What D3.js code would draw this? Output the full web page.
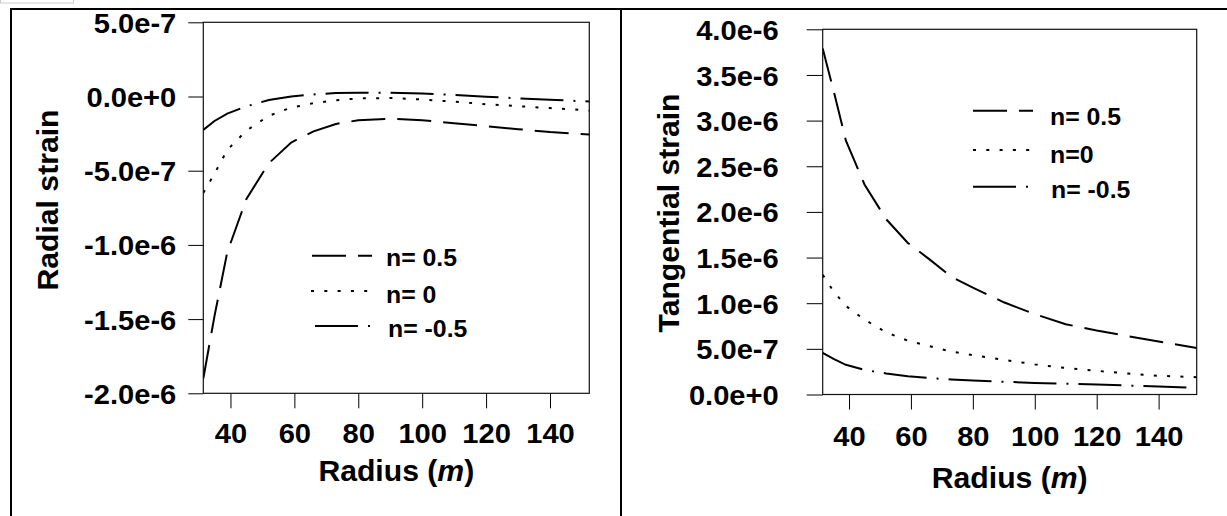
<!DOCTYPE html>
<html>
<head>
<meta charset="utf-8">
<script src="https://cdn.jsdelivr.net/npm/d3@7"></script>
<style>
html, body { margin: 0; padding: 0; background: #fff; }
svg { display: block; }
text { font-family: "Liberation Sans", Arial, sans-serif; font-weight: bold; fill: #000; }
</style>
</head>
<body>
<svg id="chart" width="1227" height="516"></svg>
<script>
// radius samples (m)
const radius = [31.5, 35, 39, 45, 52, 59, 66, 73, 80, 90, 100, 110, 120, 130, 140, 152.3]

// radial strain, left panel
const radialPos = [-1.90e-6, -1.48e-6, -1.05e-6, -6.9e-7, -4.5e-7, -3.1e-7, -2.35e-7, -1.85e-7,
    -1.6e-7, -1.5e-7, -1.6e-7, -1.8e-7, -2.0e-7, -2.2e-7, -2.4e-7, -2.56e-7]
const radialZero = [-6.5e-7, -5.2e-7, -3.6e-7, -2.3e-7, -1.3e-7, -7.5e-8, -4.5e-8, -2.5e-8,
    -1.3e-8, -1.0e-8, -2.0e-8, -3.5e-8, -5.2e-8, -6.5e-8, -7.8e-8, -9.4e-8]
const radialNeg = [-2.25e-7, -1.65e-7, -1.15e-7, -6.6e-8, -2.4e-8, 0, 1.4e-8, 2.3e-8,
    2.6e-8, 2.5e-8, 2.0e-8, 1.0e-8, -2e-9, -1.2e-8, -2.2e-8, -3.4e-8]

// tangential strain, right panel
const tangPos = [3.79e-6, 3.33e-6, 2.78e-6, 2.30e-6, 1.92e-6, 1.66e-6, 1.48e-6, 1.29e-6,
    1.17e-6, 1.01e-6, 8.8e-7, 7.7e-7, 7.0e-7, 6.4e-7, 5.8e-7, 5.1e-7]
const tangZero = [1.31e-6, 1.13e-6, 9.7e-7, 8.2e-7, 6.8e-7, 5.9e-7, 5.3e-7, 4.7e-7,
    4.3e-7, 3.8e-7, 3.3e-7, 2.9e-7, 2.6e-7, 2.3e-7, 2.05e-7, 1.9e-7]
const tangNeg = [4.56e-7, 3.9e-7, 3.25e-7, 2.7e-7, 2.3e-7, 2.0e-7, 1.8e-7, 1.65e-7,
    1.53e-7, 1.4e-7, 1.27e-7, 1.18e-7, 1.1e-7, 9.8e-8, 8.7e-8, 7.3e-8]

const xTicks = [40, 60, 80, 100, 120, 140]
const radialTicks = [-2e-6, -1.5e-6, -1e-6, -5e-7, 0, 5e-7]
const radialTickLabels = ["-2.0e-6", "-1.5e-6", "-1.0e-6", "-5.0e-7", "0.0e+0", "5.0e-7"]
const tangTicks = [0, 5e-7, 1e-6, 1.5e-6, 2e-6, 2.5e-6, 3e-6, 3.5e-6, 4e-6]
const tangTickLabels = ["0.0e+0", "5.0e-7", "1.0e-6", "1.5e-6", "2.0e-6", "2.5e-6", "3.0e-6", "3.5e-6", "4.0e-6"]

const leftLegend = ["n= 0.5", "n= 0", "n= -0.5"]
const rightLegend = ["n= 0.5", "n=0", "n= -0.5"]

// dash styles for n = 0.5, 0, -0.5
const dashes = ["34,12", "3,10.3", "43,10,2,10"]

// the original text is a bit wider than plain arial bold
const SX = 1.04
const SX_LEGEND = 1.08
const FONT = "'Liberation Sans', Arial, sans-serif"

const svg = d3.select("#chart")

// outer frame (table-like borders)
svg.append("rect").attr("x", 0.5).attr("y", -1).attr("width", 73).attr("height", 4)
    .attr("fill", "none").attr("stroke", "#ccc")
svg.append("line").attr("x1", 10).attr("x2", 1227).attr("y1", 9).attr("y2", 9)
    .attr("stroke", "#000").attr("stroke-width", 2)
svg.append("line").attr("x1", 11).attr("x2", 11).attr("y1", 8).attr("y2", 516)
    .attr("stroke", "#000").attr("stroke-width", 2)
svg.append("line").attr("x1", 621).attr("x2", 621).attr("y1", 8).attr("y2", 516)
    .attr("stroke", "#000").attr("stroke-width", 2)

function styleTickText(sel){
    sel.attr("transform", `scale(${SX},1)`)
        .attr("fill", "#000")
        .style("font-size", "28px")
        .style("font-family", FONT)
        .style("font-weight", "bold")
}

function drawPanel(cfg){
    let {left, right, top, bottom, yDomain, yTicks, yLabels, series, legend, legendPos,
        yTitle, yTitlePos, yLabelOffset, yTickLen, xLabelY, xTitleY, clipId} = cfg

    let g = svg.append("g")

    let x = d3.scaleLinear().domain([31.5, 152.3]).range([left, right])
    let y = d3.scaleLinear().domain(yDomain).range([bottom, top])

    g.append("clipPath").attr("id", clipId)
        .append("rect").attr("x", left).attr("y", top)
        .attr("width", right - left).attr("height", bottom - top)

    // y axis
    let yAxis = g.append("g")
        .attr("transform", `translate(${left},0)`)
        .call(d3.axisLeft(y).tickValues(yTicks).tickSize(yTickLen).tickSizeOuter(0)
            .tickFormat((d, i) => yLabels[i]))
    yAxis.select(".domain").remove()
    yAxis.selectAll(".tick line").attr("stroke", "#000")
    yAxis.selectAll(".tick text")
        .attr("x", -yLabelOffset / SX)
        .attr("dy", "0.36em")
        .call(styleTickText)

    // x axis
    let xAxis = g.append("g")
        .attr("transform", `translate(0,${bottom})`)
        .call(d3.axisBottom(x).tickValues(xTicks).tickSize(15).tickSizeOuter(0))
    xAxis.select(".domain").remove()
    xAxis.selectAll(".tick line").attr("stroke", "#000")
    xAxis.selectAll(".tick text")
        .attr("y", xLabelY)
        .attr("dy", null)
        .call(styleTickText)

    // plot box
    g.append("rect")
        .attr("x", left).attr("y", top)
        .attr("width", right - left).attr("height", bottom - top)
        .attr("fill", "none").attr("stroke", "#111").attr("stroke-width", 1.2)

    // curves
    let line = d3.line()
        .x((d, i) => x(radius[i]))
        .y(d => y(d))

    g.append("g").attr("clip-path", `url(#${clipId})`)
        .selectAll("path.curve")
        .data(series)
        .join("path")
        .attr("class", "curve")
        .attr("d", d => line(d))
        .attr("fill", "none")
        .attr("stroke", "#000")
        .attr("stroke-width", 2)
        .attr("stroke-dasharray", (d, i) => dashes[i])

    // legend
    let lg = g.append("g")
    legend.forEach((label, i) => {
        let p = legendPos[i]
        lg.append("line")
            .attr("x1", p.x1).attr("x2", p.x2).attr("y1", p.y).attr("y2", p.y)
            .attr("stroke", "#000").attr("stroke-width", 2)
            .attr("stroke-dasharray", dashes[i])
        lg.append("text")
            .attr("transform", `translate(${p.tx},${p.ty}) scale(${SX_LEGEND},1)`)
            .style("font-size", "23px")
            .text(label)
    })

    // axis titles
    let xt = g.append("text")
        .attr("transform", `translate(${(left + right) / 2},${xTitleY}) scale(${SX},1)`)
        .attr("text-anchor", "middle")
        .style("font-size", "29px")
    xt.append("tspan").text("Radius (")
    xt.append("tspan").style("font-style", "italic").text("m")
    xt.append("tspan").text(")")

    g.append("text")
        .attr("transform", `translate(${yTitlePos.x},${yTitlePos.y}) rotate(-90) scale(${SX},1)`)
        .attr("text-anchor", "middle")
        .style("font-size", "29px")
        .text(yTitle)
}

drawPanel({
    left: 203.3, right: 589.3, top: 22.3, bottom: 393.3,
    yDomain: [-2e-6, 5e-7], yTicks: radialTicks, yLabels: radialTickLabels,
    series: [radialPos, radialZero, radialNeg],
    legend: leftLegend,
    legendPos: [
        {x1: 312, x2: 372, y: 255.7, tx: 386, ty: 266},
        {x1: 311, x2: 368, y: 291, tx: 386, ty: 303},
        {x1: 315, x2: 372, y: 326, tx: 388, ty: 337}
    ],
    yTitle: "Radial strain", yTitlePos: {x: 58, y: 200},
    yLabelOffset: 27, yTickLen: 15,
    xLabelY: 50, xTitleY: 481, clipId: "clip-left"
})

drawPanel({
    left: 822.7, right: 1196.7, top: 29.3, bottom: 394.5,
    yDomain: [0, 4e-6], yTicks: tangTicks, yLabels: tangTickLabels,
    series: [tangPos, tangZero, tangNeg],
    legend: rightLegend,
    legendPos: [
        {x1: 973, x2: 1033, y: 110.7, tx: 1050, ty: 125},
        {x1: 973, x2: 1030, y: 150, tx: 1050, ty: 163},
        {x1: 973, x2: 1033, y: 186.7, tx: 1051, ty: 198}
    ],
    yTitle: "Tangential strain", yTitlePos: {x: 679, y: 213},
    yLabelOffset: 44, yTickLen: 16,
    xLabelY: 52, xTitleY: 488, clipId: "clip-right"
})
</script>
</body>
</html>
